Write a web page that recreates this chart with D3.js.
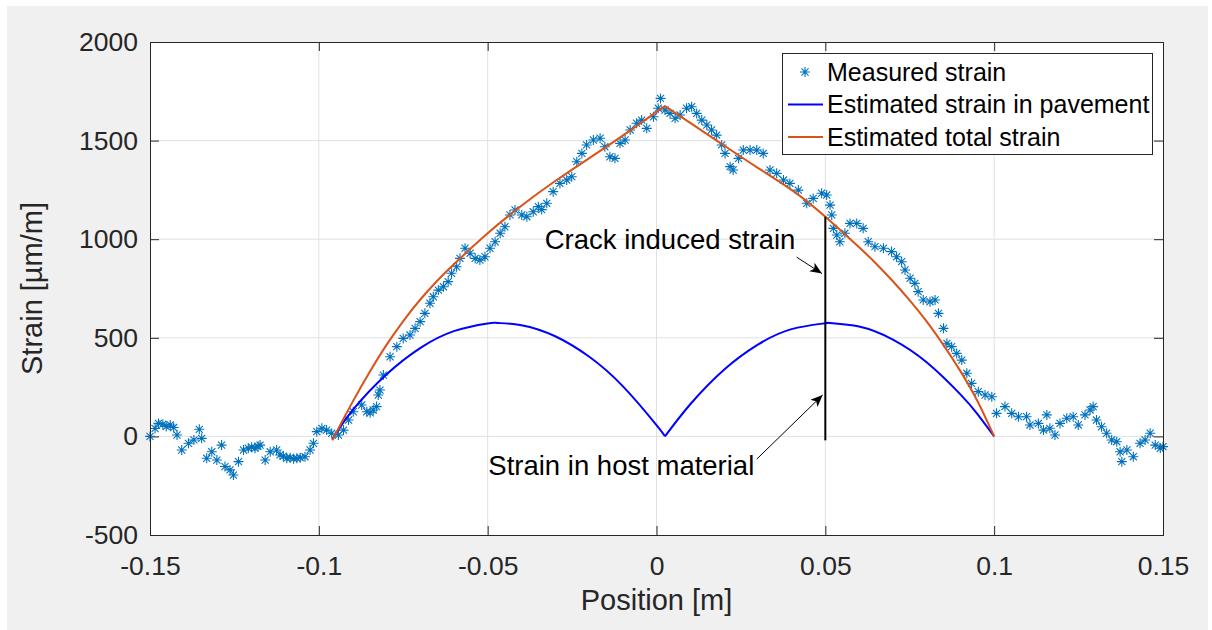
<!DOCTYPE html>
<html><head><meta charset="utf-8">
<script src="https://cdn.jsdelivr.net/npm/d3@7"></script>
<style>body{margin:0;background:#fff;} text{font-family:"Liberation Sans",Arial,Helvetica,sans-serif;}</style>
</head><body><svg id="c" width="1212" height="630"></svg>
<script>
const xTicks=[-0.15,-0.1,-0.05,0,0.05,0.1,0.15];
const xTickLabels=["-0.15","-0.1","-0.05","0","0.05","0.1","0.15"];
const yTicks=[-500,0,500,1000,1500,2000];
const yTickLabels=["-500","0","500","1000","1500","2000"];
const seriesNames=["Measured strain","Estimated strain in pavement","Estimated total strain"];

const measuredX=[-0.1500,-0.1485,-0.1475,-0.1462,-0.1452,-0.1440,-0.1430,-0.1420,-0.1406,-0.1386,-0.1370,-0.1354,-0.1347,-0.1332,-0.1317,-0.1302,-0.1288,-0.1278,-0.1263,-0.1253,-0.1238,-0.1223,-0.1209,-0.1199,-0.1189,-0.1180,-0.1174,-0.1159,-0.1144,-0.1125,-0.1115,-0.1105,-0.1095,-0.1085,-0.1075,-0.1065,-0.1055,-0.1041,-0.1026,-0.1016,-0.1006,-0.0991,-0.0977,-0.0962,-0.0942,-0.0927,-0.0912,-0.0898,-0.0873,-0.0858,-0.0848,-0.0839,-0.0829,-0.0824,-0.0819,-0.0809,-0.0789,-0.0769,-0.0750,-0.0730,-0.0715,-0.0700,-0.0686,-0.0671,-0.0661,-0.0646,-0.0631,-0.0617,-0.0607,-0.0592,-0.0582,-0.0567,-0.0552,-0.0537,-0.0523,-0.0508,-0.0493,-0.0478,-0.0463,-0.0449,-0.0434,-0.0419,-0.0399,-0.0384,-0.0365,-0.0350,-0.0340,-0.0325,-0.0306,-0.0286,-0.0266,-0.0251,-0.0236,-0.0221,-0.0207,-0.0187,-0.0167,-0.0153,-0.0138,-0.0123,-0.0108,-0.0093,-0.0078,-0.0059,-0.0044,-0.0029,-0.0009,0.0005,0.0012,0.0025,0.0040,0.0055,0.0070,0.0089,0.0104,0.0119,0.0134,0.0149,0.0163,0.0178,0.0193,0.0203,0.0218,0.0227,0.0243,0.0257,0.0277,0.0297,0.0316,0.0336,0.0356,0.0376,0.0395,0.0420,0.0445,0.0464,0.0489,0.0504,0.0514,0.0519,0.0524,0.0534,0.0543,0.0558,0.0573,0.0593,0.0612,0.0627,0.0647,0.0672,0.0696,0.0711,0.0726,0.0736,0.0751,0.0765,0.0775,0.0790,0.0810,0.0825,0.0835,0.0850,0.0860,0.0874,0.0889,0.0904,0.0919,0.0933,0.0953,0.0973,0.0993,0.1007,0.1032,0.1052,0.1072,0.1096,0.1106,0.1131,0.1146,0.1156,0.1165,0.1180,0.1195,0.1215,0.1234,0.1249,0.1269,0.1284,0.1293,0.1303,0.1318,0.1333,0.1348,0.1363,0.1373,0.1378,0.1393,0.1412,0.1432,0.1447,0.1462,0.1477,0.1492,0.1500];
const measuredY=[0,40,66,62,50,58,45,7,-69,-35,-18,36,-10,-111,-78,-120,-44,-153,-170,-196,-128,-69,-60,-55,-60,-50,-44,-120,-78,-69,-94,-100,-111,-108,-113,-111,-108,-103,-69,-35,24,41,32,16,7,32,83,125,159,125,120,134,151,210,235,311,404,455,497,514,548,582,624,675,708,742,759,785,827,860,903,954,929,903,894,911,954,987,1030,1063,1123,1148,1123,1114,1139,1165,1150,1182,1241,1283,1300,1317,1393,1435,1478,1503,1512,1469,1418,1410,1486,1503,1554,1588,1604,1562,1621,1664,1714,1655,1638,1613,1630,1664,1672,1638,1604,1579,1554,1528,1478,1435,1368,1351,1410,1452,1452,1452,1435,1351,1334,1300,1283,1249,1182,1207,1233,1224,1173,1123,1055,1021,987,1030,1080,1080,1055,987,962,954,937,911,886,844,802,776,734,692,683,692,624,548,472,455,421,387,320,269,227,210,201,117,151,117,100,100,58,66,32,109,41,7,66,92,100,58,109,134,151,83,49,16,-18,-27,-78,-128,-69,-103,-35,-18,16,-44,-60,-52];

const pavementLeftX=[-0.096,-0.09,-0.08,-0.07,-0.06,-0.05,-0.047,-0.04,-0.03,-0.02,-0.01,0,0.0025];
const pavementLeftY=[-15,133,314,448,534,573,575,564,508,405,255,57,0];
const pavementRightX=[0.0025,0.01,0.02,0.03,0.04,0.05,0.0513,0.06,0.07,0.08,0.09,0.095,0.1];
const pavementRightY=[0,163,338,465,544,574,575,557,491,376,213,114,0];

const totalLeftX=[-0.096,-0.093,-0.09,-0.085,-0.08,-0.075,-0.07,-0.065,-0.06,-0.05,-0.04,-0.03,-0.02,-0.01,0,0.0025];
const totalLeftY=[-20,79,175,325,463,585,693,788,873,1030,1170,1295,1410,1525,1645,1675];
const totalRightX=[0.0025,0.01,0.02,0.03,0.04,0.05,0.06,0.065,0.07,0.075,0.08,0.085,0.09,0.095,0.1];
const totalRightY=[1675,1590,1475,1362,1250,1114,959,877,787,690,583,463,331,181,0];

const crackLineX=[0.05,0.05];
const crackLineY=[-20,1114];
const annotations=[
  {text:"Crack induced strain", x:-0.0331, y:950, ax0:0.0415, ay0:909, ax1:0.049, ay1:826},
  {text:"Strain in host material", x:-0.0498, y:-198, ax0:0.0297, ay0:-115, ax1:0.0492, ay1:210}
];

const svg=d3.select("#c");
const L=150,R=1163,T=42,B=535;
const x=d3.scaleLinear().domain([-0.15,0.15]).range([L,R]);
const y=d3.scaleLinear().domain([-500,2000]).range([B,T]);
const axisCol="#262626";

svg.append("rect").attr("x",7).attr("y",6).attr("width",1201).attr("height",624).attr("fill","#f0f0f0");
svg.append("rect").attr("x",L).attr("y",T).attr("width",R-L).attr("height",B-T).attr("fill","#fff");

// grid
const g=svg.append("g");
g.selectAll("line.gx").data(xTicks.slice(1,-1)).join("line")
  .attr("x1",d=>x(d)).attr("x2",d=>x(d)).attr("y1",T).attr("y2",B)
  .attr("stroke","#e1e1e1").attr("stroke-width",1);
g.selectAll("line.gy").data(yTicks.slice(1,-1)).join("line")
  .attr("y1",d=>y(d)).attr("y2",d=>y(d)).attr("x1",L).attr("x2",R)
  .attr("stroke","#e1e1e1").attr("stroke-width",1);

function styleAxis(sel,showText){
  sel.select(".domain").remove();
  sel.selectAll(".tick line").attr("stroke",axisCol);
  sel.selectAll(".tick text").attr("fill",axisCol).style("font-size","26.5px")
     .style("font-family",'"Liberation Sans",Arial,sans-serif');
  if(!showText) sel.selectAll(".tick text").remove();
}
svg.append("g").attr("transform",`translate(0,${B})`)
  .call(d3.axisBottom(x).tickValues(xTicks).tickFormat((d,i)=>xTickLabels[i]).tickSizeInner(-9).tickSizeOuter(0).tickPadding(21))
  .call(s=>styleAxis(s,true));
svg.append("g").attr("transform",`translate(0,${T})`)
  .call(d3.axisTop(x).tickValues(xTicks).tickSizeInner(-9).tickSizeOuter(0))
  .call(s=>styleAxis(s,false));
svg.append("g").attr("transform",`translate(${L},0)`)
  .call(d3.axisLeft(y).tickValues(yTicks).tickFormat((d,i)=>yTickLabels[i]).tickSizeInner(-9).tickSizeOuter(0).tickPadding(12))
  .call(s=>styleAxis(s,true));
svg.append("g").attr("transform",`translate(${R},0)`)
  .call(d3.axisRight(y).tickValues(yTicks).tickSizeInner(-9).tickSizeOuter(0))
  .call(s=>styleAxis(s,false));

// star marker path
const r=5, dd=r*0.7071;
const starPath=`M${-r},0H${r}M0,${-r}V${r}M${-dd},${-dd}L${dd},${dd}M${-dd},${dd}L${dd},${-dd}`;
const blueM="#0072BD", orange="#D95319", blue="#0000FF";

svg.append("g").selectAll("path").data(measuredX.map((v,i)=>[v,measuredY[i]])).join("path")
  .attr("transform",d=>`translate(${x(d[0])},${y(d[1])})`)
  .attr("d",starPath).attr("stroke",blueM).attr("stroke-width",1.1).attr("fill","none");

const line=d3.line().x(d=>x(d[0])).y(d=>y(d[1])).curve(d3.curveNatural);
function drawLine(xs,ys,col,w){
  svg.append("path").datum(xs.map((v,i)=>[v,ys[i]])).attr("d",line)
   .attr("fill","none").attr("stroke",col).attr("stroke-width",w).attr("stroke-linejoin","round");
}
drawLine(pavementLeftX,pavementLeftY,blue,2);
drawLine(pavementRightX,pavementRightY,blue,2);
drawLine(totalLeftX,totalLeftY,orange,2);
drawLine(totalRightX,totalRightY,orange,2);

svg.append("line").attr("x1",x(crackLineX[0])).attr("x2",x(crackLineX[1]))
  .attr("y1",y(crackLineY[0])).attr("y2",y(crackLineY[1])).attr("stroke","#000").attr("stroke-width",2);

// arrows
svg.append("defs").append("marker").attr("id","ah").attr("markerUnits","userSpaceOnUse")
  .attr("markerWidth",14).attr("markerHeight",12).attr("refX",12).attr("refY",5).attr("orient","auto")
  .append("path").attr("d","M0,0L12,5L0,10L3,5Z").attr("fill","#000");
annotations.forEach(a=>{
  svg.append("line").attr("x1",x(a.ax0)).attr("y1",y(a.ay0)).attr("x2",x(a.ax1)).attr("y2",y(a.ay1))
    .attr("stroke","#000").attr("stroke-width",1).attr("marker-end","url(#ah)");
  svg.append("text").attr("x",x(a.x)).attr("y",y(a.y)).text(a.text)
    .attr("fill","#000").style("font-size","27.5px");
});

// axis labels
svg.append("text").attr("x",(L+R)/2).attr("y",610).attr("text-anchor","middle")
  .style("font-size","29px").attr("fill",axisCol).text("Position [m]");
svg.append("text").attr("transform",`translate(42,${(T+B)/2}) rotate(-90)`).attr("text-anchor","middle")
  .style("font-size","29px").attr("fill",axisCol).text("Strain [µm/m]");

// box
svg.append("rect").attr("x",L).attr("y",T).attr("width",R-L).attr("height",B-T)
  .attr("fill","none").attr("stroke",axisCol).attr("stroke-width",1).attr("shape-rendering","crispEdges");

// legend
const lg=svg.append("g");
lg.append("rect").attr("x",782).attr("y",53).attr("width",370).attr("height",101)
  .attr("fill","#fff").attr("stroke",axisCol).attr("stroke-width",1).attr("shape-rendering","crispEdges");
const rows=[72,104.5,137];
lg.append("path").attr("transform",`translate(805,${rows[0]})`).attr("d",starPath)
  .attr("stroke",blueM).attr("stroke-width",1.1).attr("fill","none");
lg.append("line").attr("x1",788).attr("x2",823).attr("y1",rows[1]).attr("y2",rows[1]).attr("stroke",blue).attr("stroke-width",2);
lg.append("line").attr("x1",788).attr("x2",823).attr("y1",rows[2]).attr("y2",rows[2]).attr("stroke",orange).attr("stroke-width",2);
seriesNames.forEach((n,i)=>{
  lg.append("text").attr("x",827).attr("y",rows[i]).attr("dy","0.35em").text(n)
    .style("font-size","25px").attr("fill","#000");
});
</script></body></html>
